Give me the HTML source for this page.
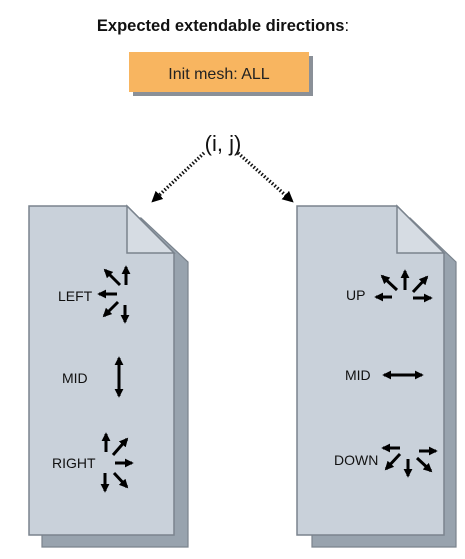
<!DOCTYPE html>
<html><head><style>
html,body{margin:0;padding:0;background:#fff;}
svg{display:block;}
text{font-family:"Liberation Sans","DejaVu Sans",sans-serif;}
</style></head><body>
<svg width="465" height="559" viewBox="0 0 465 559" xmlns="http://www.w3.org/2000/svg">
<defs>
<marker id="ah" viewBox="0 0 10 10" refX="8" refY="5" markerWidth="3" markerHeight="3" orient="auto-start-reverse"><path d="M0,0 L10,5 L0,10 z" fill="#000"/></marker>
<marker id="dh" viewBox="0 0 10 10" refX="8" refY="5" markerWidth="3.2" markerHeight="3.2" orient="auto"><path d="M0,0 L10,5 L0,10 z" fill="#000"/></marker>
</defs>
<text x="223" y="31" font-size="16.5" font-weight="bold" text-anchor="middle" fill="#111">Expected extendable directions<tspan font-weight="normal">:</tspan></text>
<rect x="133" y="56" width="180" height="40" fill="#8a9098"/>
<rect x="129" y="52" width="180" height="40" fill="#f8b560"/>
<text x="219" y="79" font-size="16" text-anchor="middle" fill="#222">Init mesh: ALL</text>
<text x="223" y="151" font-size="22" text-anchor="middle" fill="#111">(i, j)</text>
<line x1="204" y1="153" x2="153" y2="201" stroke="#111" stroke-width="3.5" stroke-dasharray="1.5 2" marker-end="url(#dh)"/>
<line x1="238" y1="153" x2="292" y2="201" stroke="#111" stroke-width="3.5" stroke-dasharray="1.5 2" marker-end="url(#dh)"/>
<path d="M42,547 L42,218 L141,218 L188,262 L188,547 Z" fill="#98a3ae" stroke="#7a838d" stroke-width="1.2"/>
<path d="M29,535 L29,206 L127,206 L174,253 L174,535 Z" fill="#c9d1da" stroke="#7a838d" stroke-width="1.5"/>
<path d="M127,206 L127,253 L174,253 Z" fill="#d6dce3" stroke="#7a838d" stroke-width="1.5"/>
<path d="M312,547 L312,218 L410,218 L456,262 L456,547 Z" fill="#98a3ae" stroke="#7a838d" stroke-width="1.2"/>
<path d="M297,535 L297,206 L397,206 L444,253 L444,535 Z" fill="#c9d1da" stroke="#7a838d" stroke-width="1.5"/>
<path d="M397,206 L397,253 L444,253 Z" fill="#d6dce3" stroke="#7a838d" stroke-width="1.5"/>
<g font-size="14" fill="#111">
<text x="58" y="301">LEFT</text>
<text x="62" y="383">MID</text>
<text x="52" y="468">RIGHT</text>
<text x="346" y="300">UP</text>
<text x="345" y="380">MID</text>
<text x="334" y="465">DOWN</text>
</g>
<g stroke="#000" stroke-width="3" marker-end="url(#ah)">
<line x1="120" y1="285" x2="105" y2="270"/>
<line x1="126" y1="285" x2="126" y2="267"/>
<line x1="117" y1="294" x2="99" y2="294"/>
<line x1="118" y1="302" x2="104" y2="316"/>
<line x1="125" y1="305" x2="125" y2="322"/>
<line x1="119" y1="358" x2="119" y2="396" marker-start="url(#ah)"/>
<line x1="106" y1="452" x2="106" y2="434"/>
<line x1="113" y1="455" x2="127" y2="439"/>
<line x1="115" y1="463" x2="132" y2="463"/>
<line x1="105" y1="473" x2="105" y2="491"/>
<line x1="114" y1="473" x2="127" y2="487"/>
<line x1="397" y1="290" x2="382" y2="276"/>
<line x1="405" y1="290" x2="405" y2="271"/>
<line x1="413" y1="292" x2="427" y2="277"/>
<line x1="392" y1="297" x2="376" y2="297"/>
<line x1="413" y1="298" x2="431" y2="298"/>
<line x1="384" y1="375" x2="422" y2="375" marker-start="url(#ah)"/>
<line x1="400" y1="448" x2="383" y2="448"/>
<line x1="400" y1="454" x2="386" y2="469"/>
<line x1="408" y1="459" x2="408" y2="476"/>
<line x1="417" y1="458" x2="431" y2="471"/>
<line x1="419" y1="451" x2="436" y2="451"/>
</g>
</svg>
</body></html>
